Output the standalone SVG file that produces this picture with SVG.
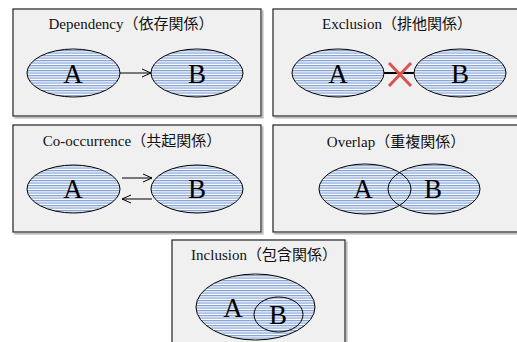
<svg xmlns="http://www.w3.org/2000/svg" width="517" height="342" viewBox="0 0 517 342">
<defs>
<pattern id="hatch" patternUnits="userSpaceOnUse" width="8" height="2.5">
<rect width="8" height="2.5" fill="#ffffff"/>
<rect y="0" width="8" height="1.2" fill="#7f9fd3"/>
</pattern>
<marker id="arr" viewBox="0 0 10 10" refX="10" refY="5" markerWidth="10" markerHeight="10" markerUnits="userSpaceOnUse" orient="auto">
<path d="M1,1 L10,5 L1,9" fill="none" stroke="#000" stroke-width="1"/>
</marker>
<filter id="sh" x="-5%" y="-5%" width="110%" height="110%">
<feOffset dx="1.5" dy="1.5" in="SourceAlpha" result="o"/>
<feColorMatrix in="o" type="matrix" values="0 0 0 0 0.4  0 0 0 0 0.4  0 0 0 0 0.4  0 0 0 0.8 0"/>
<feMerge><feMergeNode/><feMergeNode in="SourceGraphic"/></feMerge>
</filter>
</defs>
<style>
.box{fill:#f0f0f0;stroke:#222;stroke-width:1.2;filter:url(#sh)}
.ell{fill:url(#hatch);stroke:#000;stroke-width:1}
.fill{fill:url(#hatch);stroke:none}
.line{fill:none;stroke:#000;stroke-width:1}
.title{font-family:"Liberation Serif","Noto Sans CJK JP",serif;font-size:15px;fill:#111;text-anchor:middle}
.lbl{font-family:"Liberation Serif",serif;font-size:27px;fill:#000;text-anchor:middle}
.con{stroke:#000;stroke-width:1;fill:none}
</style>
<rect width="517" height="342" fill="#ffffff"/>

<g id="dependency">
<rect class="box" x="13" y="9" width="248" height="107"/>
<text class="title" x="131" y="29">Dependency（依存関係）</text>
<ellipse class="ell" cx="73.5" cy="73" rx="46.5" ry="24"/>
<ellipse class="ell" cx="197" cy="73" rx="46" ry="24"/>
<text class="lbl" x="73" y="83">A</text>
<text class="lbl" x="197" y="83">B</text>
</g>

<g id="exclusion">
<rect class="box" x="273" y="9" width="246" height="107"/>
<text class="title" x="397" y="29">Exclusion（排他関係）</text>
<ellipse class="ell" cx="338" cy="73" rx="46" ry="24"/>
<ellipse class="ell" cx="460" cy="73" rx="46" ry="24"/>
<text class="lbl" x="338" y="83">A</text>
<text class="lbl" x="460" y="83">B</text>
</g>

<g id="cooccurrence">
<rect class="box" x="13" y="125" width="248" height="107"/>
<text class="title" x="132" y="146">Co-occurrence（共起関係）</text>
<ellipse class="ell" cx="73.5" cy="189" rx="46.5" ry="24"/>
<ellipse class="ell" cx="197" cy="189" rx="46" ry="24"/>
<text class="lbl" x="73" y="198">A</text>
<text class="lbl" x="197" y="198">B</text>
</g>

<g id="overlap">
<rect class="box" x="273" y="125" width="246" height="107"/>
<text class="title" x="396" y="147">Overlap（重複関係）</text>
<ellipse class="fill" cx="365" cy="189" rx="46" ry="25"/>
<ellipse class="fill" cx="434" cy="189" rx="46" ry="25"/>
<ellipse class="line" cx="365" cy="189" rx="46" ry="25"/>
<ellipse class="line" cx="434" cy="189" rx="46" ry="25"/>
<text class="lbl" x="363" y="198">A</text>
<text class="lbl" x="433" y="198">B</text>
</g>

<g id="inclusion">
<rect class="box" x="172" y="240" width="173" height="110"/>
<text class="title" x="264" y="260">Inclusion（包含関係）</text>
<ellipse class="ell" cx="255.5" cy="307" rx="59.5" ry="33"/>
<ellipse class="ell" cx="278.5" cy="314.5" rx="24.5" ry="17.5"/>
<text class="lbl" x="233" y="317">A</text>
<text class="lbl" x="278" y="324">B</text>
</g>

<g id="connectors">
<line class="con" x1="120" y1="73" x2="151" y2="73" marker-end="url(#arr)"/>
<line x1="384" y1="73" x2="414" y2="73" stroke="#000" stroke-width="2"/>
<line x1="389" y1="63" x2="411" y2="86" stroke="#d9534f" stroke-width="3"/>
<line x1="411" y1="63" x2="389" y2="86" stroke="#d9534f" stroke-width="3"/>
<line class="con" x1="122" y1="178" x2="152" y2="178" marker-end="url(#arr)"/>
<line class="con" x1="152" y1="199" x2="122" y2="199" marker-end="url(#arr)"/>
</g>
</svg>
